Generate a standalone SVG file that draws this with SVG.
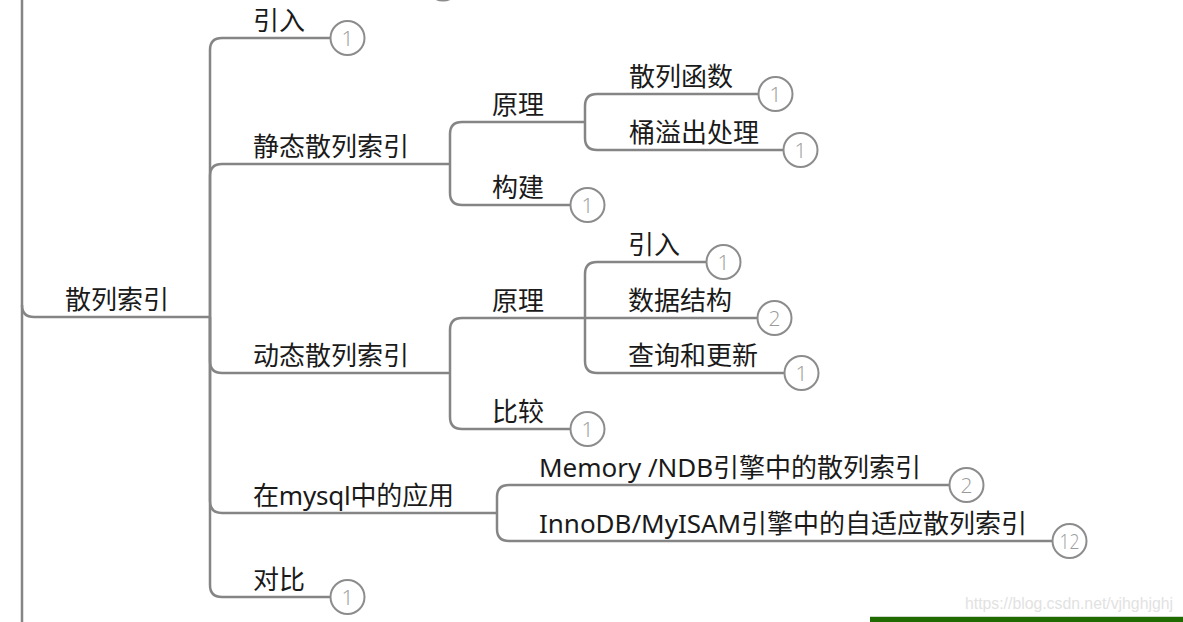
<svg xmlns="http://www.w3.org/2000/svg" width="1183" height="622" viewBox="0 0 1183 622">
<style>
  .c { fill: none; stroke: #858585; stroke-width: 2.5; }
  .t { font-family: "Noto Sans", "Noto Sans CJK SC", sans-serif; font-size: 26px; fill: #1a1a1a; }
  .b { fill: #fff; stroke: #8c8c8c; stroke-width: 2; }
  .n { font-family: "Open Sans", "Noto Sans", sans-serif; font-weight: 300; font-size: 21px; fill: #9a9a9a; text-anchor: middle; }
  .wm { font-family: "Liberation Sans", Arial, sans-serif; font-size: 16px; fill: #e2e2e2; }
</style>
<rect width="1183" height="622" fill="#fff"/>
<g id="connectors">
  <path class="c" d="M22,0 V622"/>
  <path class="c" d="M22,305 Q22,317 34,317 H210"/>
  <path class="c" d="M210,317 V50 Q210,38 222,38 H331"/>
  <path class="c" d="M210,317 V176 Q210,164 222,164 H450"/>
  <path class="c" d="M210,317 V361 Q210,373 222,373 H450"/>
  <path class="c" d="M210,317 V501 Q210,513 222,513 H497"/>
  <path class="c" d="M210,317 V585 Q210,597 222,597 H331"/>
  <path class="c" d="M450,164 V134 Q450,122 462,122 H585"/>
  <path class="c" d="M450,164 V193 Q450,205 462,205 H571"/>
  <path class="c" d="M585,122 V106 Q585,94 597,94 H759"/>
  <path class="c" d="M585,122 V138 Q585,150 597,150 H784"/>
  <path class="c" d="M450,373 V330 Q450,318 462,318 H585"/>
  <path class="c" d="M450,373 V417 Q450,429 462,429 H571"/>
  <path class="c" d="M585,318 V274 Q585,262 597,262 H707"/>
  <path class="c" d="M585,318 H758"/>
  <path class="c" d="M585,318 V361 Q585,373 597,373 H785"/>
  <path class="c" d="M497,513 V497 Q497,485 509,485 H950"/>
  <path class="c" d="M497,513 V529 Q497,541 509,541 H1053"/>
</g>
<g id="offscreen-badge"><circle class="b" cx="443" cy="-16.5" r="17"/></g>
<g id="root"><text class="t" x="65" y="309">散列索引</text></g>
<g id="n-yinru"><text class="t" x="253" y="30">引入</text><circle class="b" cx="347.5" cy="38" r="17"/><text class="n" x="347.5" y="45.5">1</text></g>
<g id="n-static"><text class="t" x="253" y="156">静态散列索引</text></g>
<g id="n-static-principle"><text class="t" x="492" y="114">原理</text></g>
<g id="n-hashfunc"><text class="t" x="629" y="86">散列函数</text><circle class="b" cx="775.5" cy="94" r="17"/><text class="n" x="775.5" y="101.5">1</text></g>
<g id="n-overflow"><text class="t" x="629" y="142">桶溢出处理</text><circle class="b" cx="800.5" cy="150" r="17"/><text class="n" x="800.5" y="157.5">1</text></g>
<g id="n-build"><text class="t" x="492" y="197">构建</text><circle class="b" cx="587.5" cy="205" r="17"/><text class="n" x="587.5" y="212.5">1</text></g>
<g id="n-dynamic"><text class="t" x="253" y="365">动态散列索引</text></g>
<g id="n-dynamic-principle"><text class="t" x="492" y="310">原理</text></g>
<g id="n-dyn-intro"><text class="t" x="628" y="254">引入</text><circle class="b" cx="723.5" cy="262" r="17"/><text class="n" x="723.5" y="269.5">1</text></g>
<g id="n-datastruct"><text class="t" x="628" y="310">数据结构</text><circle class="b" cx="774.5" cy="318" r="17"/><text class="n" x="774.5" y="325.5">2</text></g>
<g id="n-query"><text class="t" x="628" y="365">查询和更新</text><circle class="b" cx="801.5" cy="373" r="17"/><text class="n" x="801.5" y="380.5">1</text></g>
<g id="n-compare"><text class="t" x="492" y="421">比较</text><circle class="b" cx="587.5" cy="429" r="17"/><text class="n" x="587.5" y="436.5">1</text></g>
<g id="n-mysql"><text class="t" x="253" y="505" textLength="201">在mysql中的应用</text></g>
<g id="n-memory"><text class="t" x="539" y="477" textLength="382">Memory /NDB引擎中的散列索引</text><circle class="b" cx="966.5" cy="485" r="17"/><text class="n" x="966.5" y="492.5">2</text></g>
<g id="n-innodb"><text class="t" x="539" y="533" textLength="488">InnoDB/MyISAM引擎中的自适应散列索引</text><circle class="b" cx="1069.5" cy="541" r="17"/><text class="n" x="1069.5" y="548.5" textLength="20" lengthAdjust="spacingAndGlyphs">12</text></g>
<g id="n-contrast"><text class="t" x="253" y="589">对比</text><circle class="b" cx="347.5" cy="597" r="17"/><text class="n" x="347.5" y="604.5">1</text></g>
<text class="wm" x="965" y="609" textLength="208" lengthAdjust="spacingAndGlyphs">https://blog.csdn.net/vjhghjghj</text>
<rect x="870" y="616" width="313" height="1" fill="#cfd8cc"/>
<rect x="870" y="617" width="313" height="5" fill="#1f6b00"/>
</svg>
